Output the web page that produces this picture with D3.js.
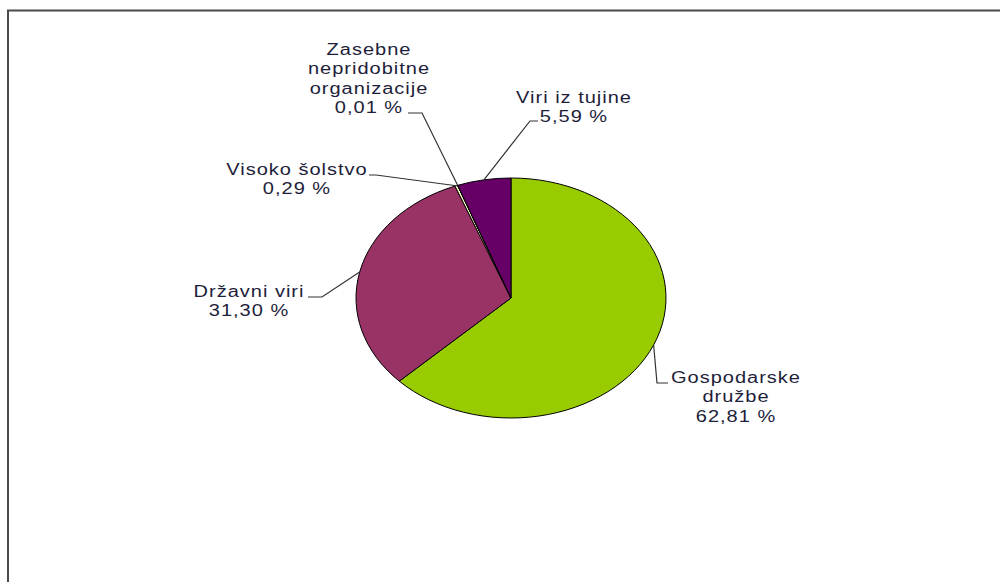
<!DOCTYPE html>
<html>
<head>
<meta charset="utf-8">
<script src="https://cdn.jsdelivr.net/npm/d3@7"></script>
<style>
  html, body { margin: 0; padding: 0; background: #fff; }
  svg { display: block; }
</style>
</head>
<body>
<div class="canvas"></div>
<script>
// data
const categories = ["Gospodarske družbe", "Državni viri", "Visoko šolstvo", "Zasebne nepridobitne organizacije", "Viri iz tujine"];
const shares = [62.81, 31.30, 0.29, 0.01, 5.59];
const labelLines = [
  ["Gospodarske", "družbe", "62,81 %"],
  ["Državni viri", "31,30 %"],
  ["Visoko šolstvo", "0,29 %"],
  ["Zasebne", "nepridobitne", "organizacije", "0,01 %"],
  ["Viri iz tujine", "5,59 %"]
];
const colors = ["#99cc00", "#993366", "#ffffcc", "#ccffff", "#660066"];

// label layout: text centre, first baseline, leader elbow, leader end
const labelLayout = [
  { x: 736, y: 383, elbow: [657, 383], end: [668, 383] },
  { x: 249, y: 297, elbow: [322, 297], end: [308, 297] },
  { x: 297, y: 175, elbow: [376, 175], end: [369, 175] },
  { x: 369, y: 55,  elbow: [422, 113], end: [408, 113] },
  { x: 574, y: 103, elbow: [530, 121], end: [538, 121] }
];

const width = 1000, height = 582;
const cx = 511, cy = 298;
const ry = 120, rx = 155;
const sx = rx / ry;

const svg = d3.select(".canvas").append("svg")
  .attr("width", width)
  .attr("height", height);

// outer frame
svg.append("rect")
  .attr("x", 8).attr("y", 10.5)
  .attr("width", 1100).attr("height", 700)
  .attr("fill", "none")
  .attr("stroke", "#4a4a4a")
  .attr("stroke-width", 2);

const data = categories.map((c, i) => ({ name: c, value: shares[i], lines: labelLines[i], color: colors[i], layout: labelLayout[i] }));

const pie = d3.pie().sort(null).value(d => d.value);
const arcs = pie(data);
const arc = d3.arc().innerRadius(0).outerRadius(ry);

svg.append("g")
  .attr("transform", `translate(${cx},${cy}) scale(${sx},1)`)
  .selectAll("path")
  .data(arcs)
  .join("path")
    .attr("d", arc)
    .attr("fill", d => d.data.color)
    .attr("stroke", "#000")
    .attr("stroke-width", 1)
    .attr("vector-effect", "non-scaling-stroke");

// leader lines: from slice mid-angle on the ellipse
function anchor(d) {
  const a = (d.startAngle + d.endAngle) / 2;
  return [cx + rx * Math.sin(a), cy - ry * Math.cos(a)];
}

svg.append("g")
  .selectAll("polyline")
  .data(arcs)
  .join("polyline")
    .attr("points", d => [anchor(d), d.data.layout.elbow, d.data.layout.end].map(p => p.join(",")).join(" "))
    .attr("fill", "none")
    .attr("stroke", "#333")
    .attr("stroke-width", 1.2);

const labels = svg.append("g")
  .selectAll("text")
  .data(arcs)
  .join("text")
    .attr("transform", d => `translate(${d.data.layout.x},${d.data.layout.y}) scale(1.25,1)`)
    .attr("text-anchor", "middle")
    .attr("font-family", "'Liberation Sans', Arial, sans-serif")
    .attr("font-size", 16)
    .attr("letter-spacing", 0.8)
    .attr("fill", "#1e1e3a");

labels.selectAll("tspan")
  .data(d => d.data.lines)
  .join("tspan")
    .attr("x", 0)
    .attr("dy", (t, i) => i === 0 ? 0 : 19.5)
    .text(t => t);
</script>
</body>
</html>
